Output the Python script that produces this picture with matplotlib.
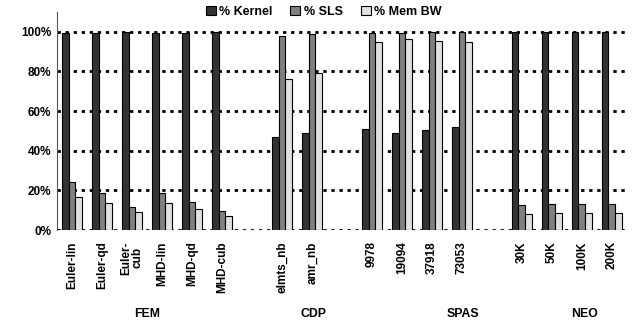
import numpy as np
import matplotlib.pyplot as plt

plt.rcParams['font.family'] = ['Liberation Sans', 'DejaVu Sans']
plt.rcParams['font.weight'] = 'bold'

# slot positions (blank slots separate the groups)
slots = [0, 1, 2, 3, 4, 5, 7, 8, 10, 11, 12, 13, 15, 16, 17, 18]
labels = ['Euler-lin', 'Euler-qd', 'Euler-\ncub', 'MHD-lin', 'MHD-qd', 'MHD-cub',
          'elmts_nb', 'amr_nb',
          '9978', '19094', '37918', '73053',
          '30K', '50K', '100K', '200K']

kernel = [99.2, 99.6, 100, 99.6, 99.6, 100,
          47.1, 49.2,
          50.8, 49.2, 50.5, 52.0,
          100, 100, 100, 100]
sls = [24.4, 18.5, 11.8, 18.9, 14.3, 9.6,
       97.8, 99.0,
       99.2, 99.5, 100, 100,
       12.5, 13.1, 13.1, 13.1]
mem_bw = [16.5, 13.8, 8.9, 13.8, 10.4, 7.1,
          76.4, 79.1,
          95.0, 96.5, 95.3, 95.0,
          8.1, 8.4, 8.4, 8.4]

groups = ['FEM', 'CDP', 'SPAS', 'NEO']
group_pos = [2.5, 8.05, 13.05, 17.1]

fig = plt.figure(figsize=(6.44, 3.24), dpi=100)
ax = fig.add_axes([0.0885, 0.29, 0.885, 0.673])

x = np.array(slots)
w = 0.23
ax.bar(x - w, kernel, w, color='#333333', edgecolor='black', lw=0.8, label='% Kernel', zorder=3)
ax.bar(x, sls, w, color='#808080', edgecolor='black', lw=0.8, label='% SLS', zorder=3)
ax.bar(x + w, mem_bw, w, color='#e0e0e0', edgecolor='black', lw=0.8, label='% Mem BW', zorder=3)

ax.set_xlim(-0.5, 18.5)
ax.set_ylim(0, 110)
yt = [0, 20, 40, 60, 80, 100]
ax.set_yticks(yt)
ax.set_yticklabels([f'{v}%' for v in yt], fontsize=8.5, fontweight='bold')
for v in yt:
    ax.axhline(v, color='black', lw=2, ls=(0, (1.2, 1.7)), zorder=1)

ax.set_xticks(x)
ax.set_xticklabels(labels, rotation=90, fontsize=8.5, fontweight='bold', linespacing=0.95)
ax.tick_params(axis='both', length=0)
ax.tick_params(axis='x', pad=8)
ax.tick_params(axis='y', pad=4)

for s in ['top', 'right', 'bottom']:
    ax.spines[s].set_visible(False)
ax.spines['left'].set_color('#555555')
ax.spines['left'].set_linewidth(0.8)

for g, p in zip(groups, group_pos):
    ax.text(p, -0.385, g, transform=ax.get_xaxis_transform(), ha='center', va='center',
            fontsize=8.8, fontweight='bold')

ax.legend(loc='center', bbox_to_anchor=(0.468, 1.0), ncol=3, frameon=False,
          fontsize=9, handlelength=0.8, handleheight=0.8, handletextpad=0.3,
          columnspacing=1.4, borderaxespad=0)

fig.savefig('out.png', dpi=100)
